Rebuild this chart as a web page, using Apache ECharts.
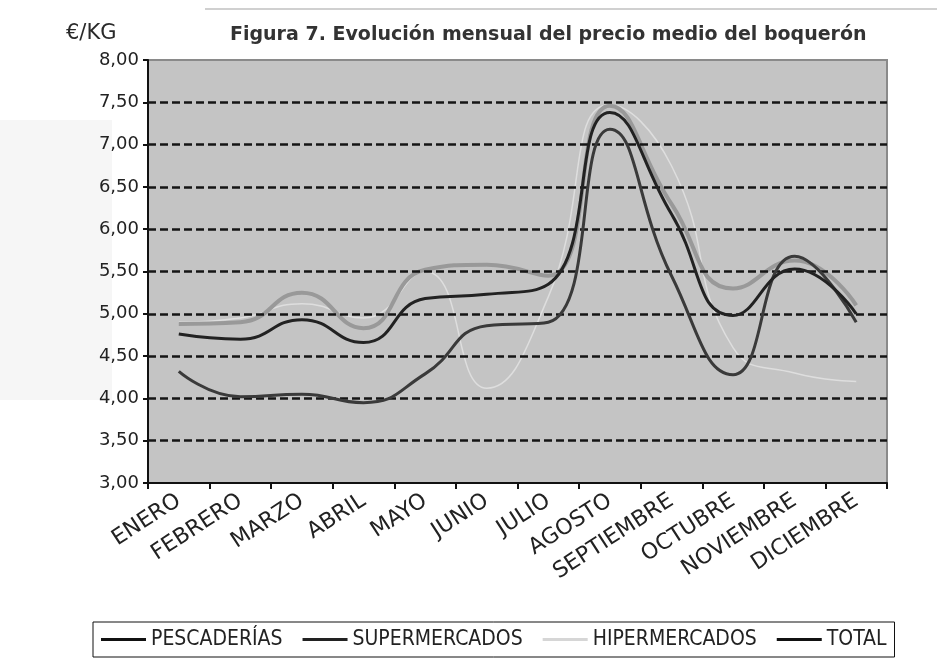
<!DOCTYPE html>
<html>
<head>
<meta charset="utf-8">
<script src="https://cdn.jsdelivr.net/npm/echarts@6/dist/echarts.min.js"></script>
<style>
html,body{margin:0;padding:0;background:#fff;}
#chart{width:937px;height:661px;}
</style>
</head>
<body>
<div id="chart"></div>
<script>
const months = ['ENERO','FEBRERO','MARZO','ABRIL','MAYO','JUNIO','JULIO','AGOSTO','SEPTIEMBRE','OCTUBRE','NOVIEMBRE','DICIEMBRE'];
const pescaderias   = [4.88, 4.90, 5.25, 4.83, 5.52, 5.58, 5.45, 7.46, 6.30, 5.30, 5.63, 5.10];
const supermercados = [4.32, 4.02, 4.05, 3.95, 4.29, 4.86, 4.90, 7.18, 5.45, 4.28, 5.68, 4.90];
const hipermercados = [4.90, 4.95, 5.12, 4.95, 5.50, 4.12, 5.20, 7.47, 6.75, 4.60, 4.30, 4.20];
const total         = [4.76, 4.70, 4.93, 4.66, 5.18, 5.23, 5.35, 7.38, 6.18, 4.98, 5.53, 5.00];
const gridValues = [3.5, 4.0, 4.5, 5.0, 5.5, 6.0, 6.5, 7.0, 7.5];

const COND = "'DejaVu Sans Condensed', 'DejaVu Sans', sans-serif";
const SANS = "'DejaVu Sans', sans-serif";
const chart = echarts.init(document.getElementById('chart'));
chart.setOption({
  backgroundColor: '#ffffff',
  animation: false,
  title: [
    { text: '€/KG', left: 61, top: 18, textStyle: { fontFamily: SANS, fontSize: 21, fontWeight: 'normal', color: '#2a2a2a' } },
    { text: 'Figura 7. Evolución mensual del precio medio del boquerón', left: 225, top: 21,
      textStyle: { fontFamily: SANS, fontSize: 19, fontWeight: 'bold', color: '#333' } }
  ],
  graphic: [
    { type: 'rect', shape: { x: 0, y: 120, width: 112, height: 280 }, style: { fill: '#f6f6f6' }, z: -10 },
    { type: 'line', shape: { x1: 205, y1: 9, x2: 937, y2: 9 }, style: { stroke: '#d0d0d0', lineWidth: 2 } }
  ],
  legend: {
    left: 93, top: 622,
    padding: [7, 8, 7, 8],
    borderColor: '#111', borderWidth: 1,
    itemWidth: 45, itemHeight: 3, itemGap: 20,
    textStyle: { fontFamily: COND, fontSize: 21, color: '#222' },
    data: [
      { name: 'PESCADERÍAS', icon: 'rect', itemStyle: { color: '#111' } },
      { name: 'SUPERMERCADOS', icon: 'rect', itemStyle: { color: '#222' } },
      { name: 'HIPERMERCADOS', icon: 'rect', itemStyle: { color: '#d6d6d6' } },
      { name: 'TOTAL', icon: 'rect', itemStyle: { color: '#111' } }
    ]
  },
  grid: {
    left: 148, right: 50, top: 60, bottom: 178,
    show: true, backgroundColor: '#c4c4c4', borderColor: '#8a8a8a', borderWidth: 2
  },
  xAxis: {
    type: 'category', data: months, boundaryGap: true,
    axisLine: { lineStyle: { color: '#111', width: 2 } },
    axisTick: { show: true, length: 6, lineStyle: { color: '#111', width: 2 } },
    axisLabel: { interval: 0, rotate: 33, margin: 16, fontFamily: SANS, fontSize: 22, color: '#222' },
    splitLine: { show: false }
  },
  yAxis: {
    type: 'value', min: 3, max: 8, interval: 0.5,
    axisLine: { show: true, lineStyle: { color: '#111', width: 2 } },
    axisTick: { show: true, length: 5, lineStyle: { color: '#111', width: 2 } },
    axisLabel: { margin: 9, fontFamily: SANS, fontSize: 18, color: '#222',
      formatter: v => v.toFixed(2).replace('.', ',') },
    splitLine: { show: false }
  },
  series: [
    { name: 'grid', type: 'line', data: months.map(() => null), z: 1, silent: true,
      markLine: { silent: true, symbol: 'none', label: { show: false },
        lineStyle: { type: [8, 4], color: '#151515', width: 2.5 },
        data: gridValues.map(v => ({ yAxis: v })) } },
    { name: 'HIPERMERCADOS', type: 'line', data: hipermercados, smooth: true, symbol: 'none', z: 3,
      lineStyle: { color: '#dedede', width: 1.5 } },
    { name: 'PESCADERÍAS', type: 'line', data: pescaderias, smooth: true, symbol: 'none', z: 4,
      lineStyle: { color: '#999999', width: 4 } },
    { name: 'SUPERMERCADOS', type: 'line', data: supermercados, smooth: true, symbol: 'none', z: 5,
      lineStyle: { color: '#3a3a3a', width: 3 } },
    { name: 'TOTAL', type: 'line', data: total, smooth: true, symbol: 'none', z: 6,
      lineStyle: { color: '#222222', width: 3 } }
  ]
});
</script>
</body>
</html>
